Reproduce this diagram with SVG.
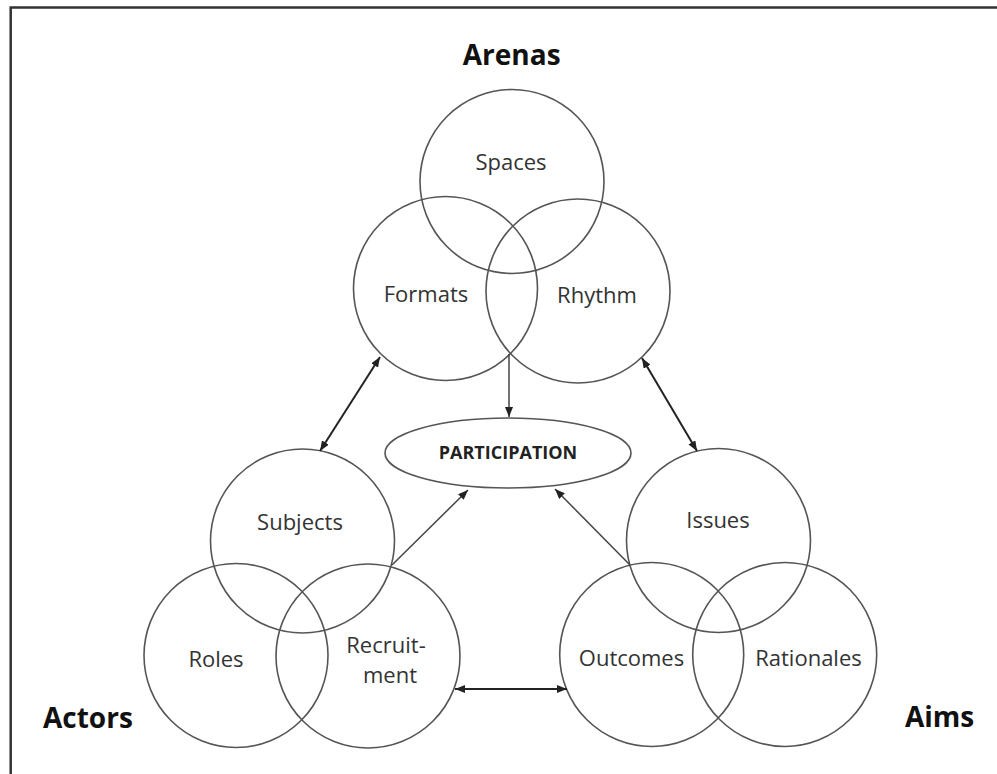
<svg xmlns="http://www.w3.org/2000/svg" width="997" height="774" viewBox="0 0 997 774">
<style>
.c{fill:none;stroke:#555;stroke-width:1.6}
.t{font-family:"Open Sans","Liberation Sans",sans-serif;font-size:22px;fill:#333;text-anchor:middle}
.h{font-family:"Open Sans","Liberation Sans",sans-serif;font-size:28px;font-weight:bold;fill:#111}
.a{stroke:#222;stroke-width:2;fill:none}
.s{stroke:#444;stroke-width:1.5;fill:none}
</style>
<defs>
<marker id="ah" viewBox="0 0 10 8" refX="10" refY="4" markerWidth="10" markerHeight="8" markerUnits="userSpaceOnUse" orient="auto-start-reverse">
<path d="M0,0 L10,4 L0,8 Z" fill="#222"/>
</marker>
</defs>
<rect x="10.7" y="7.5" width="1000" height="800" fill="#fff" stroke="#333" stroke-width="2.5"/>
<text class="h" x="511.7" y="65" text-anchor="middle">Arenas</text>
<text class="h" x="43" y="728">Actors</text>
<text class="h" x="905" y="727">Aims</text>
<g id="spaces"><circle class="c" cx="512" cy="181.5" r="92"/><text class="t" x="511" y="170">Spaces</text></g>
<g id="formats"><circle class="c" cx="445.5" cy="288.5" r="92"/><text class="t" x="426" y="302">Formats</text></g>
<g id="rhythm"><circle class="c" cx="578" cy="291" r="92"/><text class="t" x="597" y="303">Rhythm</text></g>
<g id="participation"><ellipse class="c" cx="508" cy="453" rx="123" ry="35"/><text class="t" x="508" y="459" style="font-size:18px;font-weight:bold;fill:#222">PARTICIPATION</text></g>
<g id="subjects"><circle class="c" cx="302.5" cy="541" r="92"/><text class="t" x="300" y="530">Subjects</text></g>
<g id="roles"><circle class="c" cx="236" cy="655.5" r="92"/><text class="t" x="216" y="667">Roles</text></g>
<g id="recruitment"><circle class="c" cx="368" cy="656" r="92"/><text class="t" x="386" y="653">Recruit-</text><text class="t" x="390" y="683">ment</text></g>
<g id="issues"><circle class="c" cx="718.5" cy="540.5" r="92"/><text class="t" x="718" y="528">Issues</text></g>
<g id="outcomes"><circle class="c" cx="651.7" cy="654.5" r="92"/><text class="t" x="631.5" y="666">Outcomes</text></g>
<g id="rationales"><circle class="c" cx="784.7" cy="654.5" r="92"/><text class="t" x="808.5" y="666">Rationales</text></g>
<g id="connectors">
<line class="a" x1="380" y1="357" x2="320" y2="451" marker-start="url(#ah)" marker-end="url(#ah)"/>
<line class="a" x1="642" y1="358" x2="697" y2="451" marker-start="url(#ah)" marker-end="url(#ah)"/>
<line class="a" x1="455" y1="689" x2="567" y2="689" marker-start="url(#ah)" marker-end="url(#ah)"/>
<line class="s" x1="509" y1="354" x2="509" y2="417" marker-end="url(#ah)"/>
<line class="s" x1="392" y1="565" x2="468" y2="490" marker-end="url(#ah)"/>
<line class="s" x1="630" y1="565" x2="555" y2="489" marker-end="url(#ah)"/>
</g>
</svg>
